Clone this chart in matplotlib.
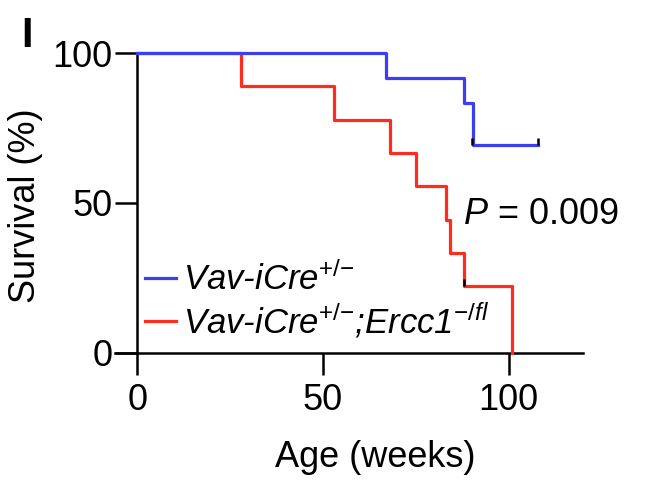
import matplotlib
matplotlib.use("Agg")
import matplotlib.pyplot as plt

plt.rcParams['font.family'] = ['Liberation Sans', 'DejaVu Sans']
plt.rcParams['mathtext.fontset'] = 'custom'
plt.rcParams['mathtext.rm'] = 'Liberation Sans'
plt.rcParams['mathtext.it'] = 'Liberation Sans:italic'
plt.rcParams['mathtext.default'] = 'it'

# Data (weeks, survival %)
ctrl_times = [0, 67, 88, 90.3, 108]
ctrl_surv = [100, 91.7, 83.3, 69.4, 69.4]
ctrl_censor_t = [90.1, 108]
ctrl_censor_s = [69.4, 69.4]

ko_times = [0, 28, 53, 68, 75, 83, 84.3, 88, 101, 101]
ko_surv = [100, 88.9, 77.8, 66.7, 55.6, 44.4, 33.3, 22.2, 0, 0]
ko_censor_t = [87.9]
ko_censor_s = [22.2]

labels = ['Vav-iCre$^{{+}/{−}}$', 'Vav-iCre$^{{+}/{−}}$;Ercc1$^{{−}/fl}$']
xticks = [0, 50, 100]
yticks = [0, 50, 100]
p_label = '$P$ = 0.009'

blue = '#3d3df5'
red = '#ff2b1c'
FS = 26

fig = plt.figure(figsize=(6.5, 4.9), dpi=100)
ax = fig.add_axes([0.177, 0.2806, 0.72, 0.6112])

l2, = ax.step(ko_times, ko_surv, where='post', color=red, lw=2.3, zorder=3,
              clip_on=False, label=labels[1])
l1, = ax.step(ctrl_times, ctrl_surv, where='post', color=blue, lw=2.3, zorder=4,
              clip_on=False, label=labels[0])
ax.plot(ctrl_censor_t, ctrl_censor_s, ls='none', marker=2, ms=5, mew=1.8,
        color='black', zorder=5, clip_on=False)
ax.plot(ko_censor_t, ko_censor_s, ls='none', marker=2, ms=5, mew=1.8,
        color='black', zorder=5, clip_on=False)

ax.set_xlim(-6, 120)
ax.set_ylim(0, 100)
ax.spines['top'].set_visible(False)
ax.spines['right'].set_visible(False)
ax.spines['left'].set_position(('data', 0))
for s in ['left', 'bottom']:
    ax.spines[s].set_linewidth(1.8)
ax.set_xticks(xticks)
ax.set_yticks(yticks)
ax.tick_params(axis='both', length=16, width=1.8, labelsize=FS)
ax.tick_params(axis='x', pad=6)
ax.tick_params(axis='y', pad=2)

ax.set_xlabel('Age (weeks)', fontsize=FS, va='center')
ax.xaxis.set_label_coords(0.556, -0.352)
fig.text(0.040, 0.58, 'Survival (%)', rotation=90, fontsize=FS,
         ha='center', va='center')

ax.text(87.6, 46.2, p_label, fontsize=FS, ha='left', va='center')

leg = ax.legend(handles=[l1, l2], loc='center left', bbox_to_anchor=(0.064, 0.172),
                frameon=False, fontsize=25, handlelength=0.9, handletextpad=0.2,
                labelspacing=0.12, borderaxespad=0, borderpad=0)
for t in leg.get_texts():
    t.set_style('italic')
for h in leg.legend_handles:
    h.set_linewidth(2.3)

fig.text(0.0415, 0.926, 'I', fontsize=30, fontweight='bold', ha='center', va='center')

fig.savefig('out.png', dpi=100)
